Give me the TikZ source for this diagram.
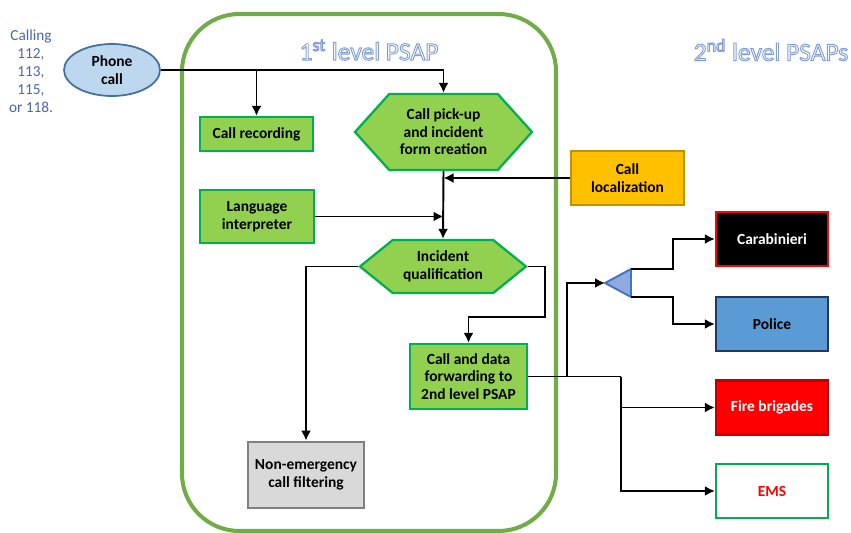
\documentclass[tikz,border=0pt]{standalone}
\usepackage{fontspec}
\setmainfont{Carlito}
\usepackage{xcolor}
\usepackage{tikz}
\usetikzlibrary{shapes.geometric,shapes.symbols}
\usetikzlibrary{arrows.meta}
\usetikzlibrary{calc}
\definecolor{boxgreen}{HTML}{92D050}
\definecolor{edgegreen}{HTML}{00B050}
\definecolor{framegreen}{HTML}{70AD47}
\definecolor{titleblue}{HTML}{8FAADC}
\definecolor{callblue}{HTML}{4A66A8}
\definecolor{phonefill}{HTML}{BDD7EE}
\definecolor{phoneedge}{HTML}{41719C}
\definecolor{locfill}{HTML}{FFC000}
\definecolor{locedge}{HTML}{BF9000}
\definecolor{polfill}{HTML}{5B9BD5}
\definecolor{poledge}{HTML}{1F3864}
\definecolor{trifill}{HTML}{8FAADC}
\definecolor{triedge}{HTML}{4472C4}
\def\outlined#1{{\color{white}\special{pdf:literal direct 0.50 0.62 0.84 RG 0.55 w 2 Tr}#1\special{pdf:literal direct 0 Tr}}}

\begin{document}
\begin{tikzpicture}[x=0.02cm,y=-0.02cm,
    txt/.style={font=\fontsize{8.8}{10}\selectfont\bfseries,align=center,inner sep=1pt},
    greenbox/.style={txt,rectangle,fill=boxgreen,draw=edgegreen,line width=1.3pt},
    greenhex/.style={txt,signal,signal to=west and east,fill=boxgreen,draw=edgegreen,line width=1.3pt},
    psapbox/.style={txt,rectangle,line width=1.3pt,minimum width=2.24cm,minimum height=1.08cm},
    flow/.style={line width=1.1pt,-{Latex[length=2mm,width=2mm]}},
    plain/.style={line width=1.1pt}]
        %%% FRAME & TITLES %%%
        \useasboundingbox (0,0) rectangle (851,533);
        \draw[framegreen,line width=2.3pt,rounded corners=1.15cm] (182,14) rectangle (556,531);
        \node[font=\fontsize{14.5}{16}\selectfont] (t1) at (369,50) {\outlined{1\textsuperscript{st} level PSAP}};
        \node[font=\fontsize{14.5}{16}\selectfont] (t2) at (771,50) {\outlined{2\textsuperscript{nd} level PSAPs}};
        \node[font=\fontsize{8.7}{10.2}\selectfont,text=callblue,align=center] (calling) at (31,71) {Calling\\112,\\113,\\115,\\or 118.};

        %%% 1ST LEVEL NODES %%%
        \node[txt,ellipse,fill=phonefill,draw=phoneedge,line width=1pt,minimum width=1.92cm,minimum height=1.04cm] (phone) at (112,70) {Phone\\call};
        \node[greenbox,minimum width=2.26cm,minimum height=0.68cm] (rec) at (256.5,134) {Call recording};
        \node[greenhex,minimum width=3.54cm,minimum height=1.52cm,signal pointer angle=96] (pick) at (443.5,132) {Call pick-up\\and incident\\form creation};
        \node[txt,rectangle,fill=locfill,draw=locedge,line width=1.3pt,minimum width=2.26cm,minimum height=1.08cm] (loc) at (627.5,178) {Call\\localization};
        \node[greenbox,minimum width=2.28cm,minimum height=1.06cm] (lang) at (257,216.5) {Language\\interpreter};
        \node[greenhex,minimum width=3.32cm,minimum height=1.06cm,signal pointer angle=78] (qual) at (443,266.5) {Incident\\qualification};
        \node[greenbox,minimum width=2.34cm,minimum height=1.3cm] (fwd) at (468.5,376.5) {Call and data\\forwarding to\\2nd level PSAP};
        \node[txt,rectangle,fill=black!15,draw=black!50,line width=1.6pt,minimum width=2.32cm,minimum height=1.32cm] (nonem) at (306,475) {Non-emergency\\call filtering};

        %%% 2ND LEVEL NODES %%%
        \coordinate (tri) at (605,283);
        \coordinate (triup) at (631,269);
        \coordinate (trilo) at (631,297);
        \draw[fill=trifill,draw=triedge,line width=1.1pt,line join=round] (tri) -- (triup) -- (trilo) -- cycle;
        \node[psapbox,fill=black,draw=red,text=white] (carab) at (772,239) {Carabinieri};
        \node[psapbox,fill=polfill,draw=poledge] (police) at (772,324) {Police};
        \node[psapbox,fill=red,draw=red!75!black,text=white] (fire) at (772,407.5) {Fire brigades};
        \node[psapbox,fill=white,draw=edgegreen,text=red] (ems) at (772,491) {EMS};

        %%% CONNECTORS %%%
        \draw[flow] (phone.east) -| (pick.north);
        \draw[flow] (phone.east -| rec.north) -- (rec.north);
        \draw[flow] (loc.west) -- (loc.west -| pick.south);
        \draw[flow] (pick.south) -- (qual.north);
        \draw[flow] (lang.east) -- (lang.east -| pick.south);
        \draw[flow] (qual.west) -| (nonem.north);
        \coordinate (qbend) at (545,317);
        \draw[flow] (qual.east) -| (qbend) -| (fwd.north);
        \coordinate (tbus) at (567,376.5);
        \coordinate (ebus) at (621,376.5);
        \draw[plain] (fwd.east) -- (ebus);
        \draw[flow] (ebus) |- (ems.west);
        \draw[flow] (ebus |- fire.west) -- (fire.west);
        \draw[flow] (tbus) |- (tri);
        \draw[flow] (triup) -- ++(42,0) |- (carab.west);
        \draw[flow] (trilo) -- ++(42,0) |- (police.west);
\end{tikzpicture}
\end{document}
